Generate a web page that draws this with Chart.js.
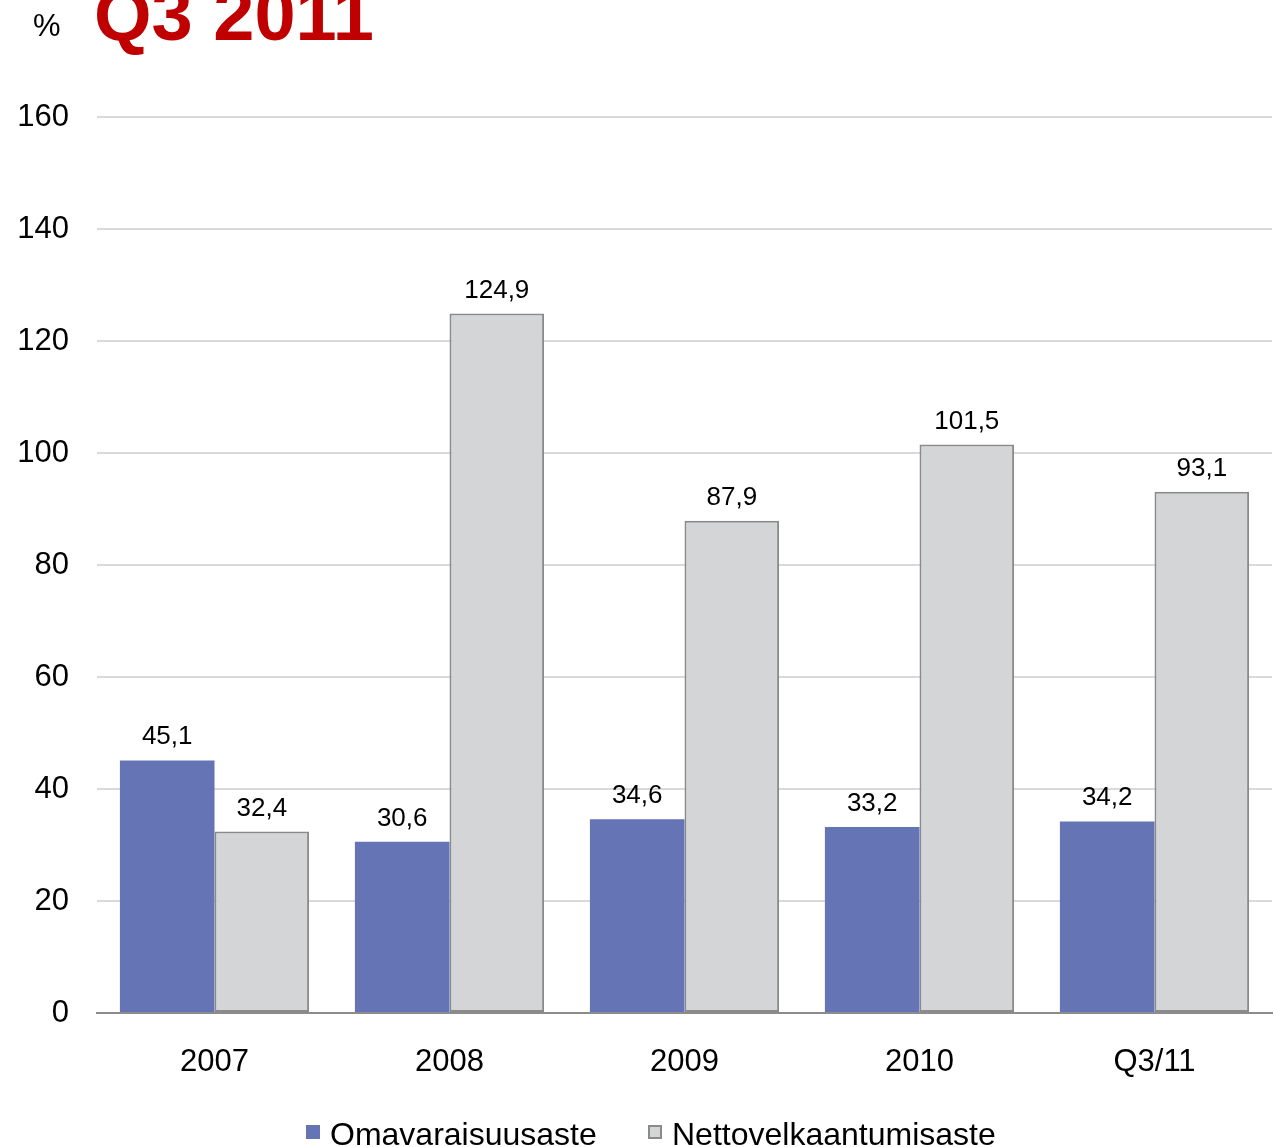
<!DOCTYPE html>
<html>
<head>
<meta charset="utf-8">
<script src="https://cdn.jsdelivr.net/npm/chart.js@4"></script>
<style>
  html, body { margin: 0; padding: 0; background: #fff; overflow: hidden; }
  #wrap { position: relative; width: 1274px; height: 1147px; }
  canvas { display: block; }
</style>
</head>
<body>
<div id="wrap"><canvas id="c" width="1274" height="1147"></canvas></div>
<script>
const categories = ['2007', '2008', '2009', '2010', 'Q3/11'];
const omavaraisuusaste = [45.1, 30.6, 34.6, 33.2, 34.2];
const nettovelkaantumisaste = [32.4, 124.9, 87.9, 101.5, 93.1];
const seriesNames = ['Omavaraisuusaste', 'Nettovelkaantumisaste'];
const titleText = 'Q3 2011';
const unitText = '%';

const FONT = '"Liberation Sans", Arial, sans-serif';

const overlayPlugin = {
  id: 'overlay',
  afterDatasetsDraw(chart) {
    const ctx = chart.ctx;
    ctx.save();
    ctx.fillStyle = '#000';
    ctx.font = '26px ' + FONT;
    ctx.textAlign = 'center';
    ctx.textBaseline = 'alphabetic';
    chart.data.datasets.forEach((ds, i) => {
      const meta = chart.getDatasetMeta(i);
      meta.data.forEach((bar, j) => {
        const v = ds.data[j];
        ctx.fillText(v.toFixed(1).replace('.', ','), bar.x, bar.y - 16);
      });
    });
    ctx.restore();
  },
  afterDraw(chart) {
    const ctx = chart.ctx;
    ctx.save();
    ctx.fillStyle = '#C00000';
    ctx.font = 'bold 74px ' + FONT;
    ctx.textAlign = 'left';
    ctx.textBaseline = 'alphabetic';
    ctx.fillText(titleText, 94, 40);
    ctx.fillStyle = '#000';
    ctx.font = '31px ' + FONT;
    ctx.fillText(unitText, 33, 36);
    const items = [
      { x: 306, tx: 330 },
      { x: 648, tx: 672 }
    ];
    ctx.font = '32px ' + FONT;
    chart.data.datasets.forEach((ds, i) => {
      const it = items[i];
      ctx.fillStyle = ds.backgroundColor;
      ctx.fillRect(it.x, 1125, 14, 14);
      if (ds.borderWidth) {
        ctx.strokeStyle = ds.borderColor;
        ctx.lineWidth = 2;
        ctx.strokeRect(it.x + 1, 1126, 12, 12);
      }
      ctx.fillStyle = '#000';
      ctx.fillText(ds.label, it.tx, 1145);
    });
    ctx.restore();
  }
};

new Chart(document.getElementById('c'), {
  type: 'bar',
  data: {
    labels: categories,
    datasets: [
      {
        label: seriesNames[0],
        data: omavaraisuusaste,
        backgroundColor: '#6574B5',
        borderWidth: 0,
        categoryPercentage: 0.805,
        barPercentage: 1.0
      },
      {
        label: seriesNames[1],
        data: nettovelkaantumisaste,
        backgroundColor: '#D4D5D7',
        borderColor: '#8A8A8A',
        borderWidth: 2,
        borderSkipped: false,
        categoryPercentage: 0.805,
        barPercentage: 1.0
      }
    ]
  },
  options: {
    responsive: false,
    animation: false,
    devicePixelRatio: 1,
    layout: { padding: { top: 117, right: 2, left: 0, bottom: 0 } },
    plugins: {
      legend: { display: false },
      tooltip: { enabled: false }
    },
    scales: {
      x: {
        grid: { display: false, drawTicks: false },
        border: { display: true, color: '#8C8C8C', width: 2 },
        ticks: { color: '#000', font: { family: FONT, size: 31 }, padding: 31 },
        afterFit(scale) { scale.height = 134; }
      },
      y: {
        min: 0,
        max: 160,
        ticks: { stepSize: 20, color: '#000', font: { family: FONT, size: 31 }, padding: 28 },
        grid: {
          drawTicks: false,
          color: (c) => (c.tick && c.tick.value === 0 ? '#8C8C8C' : '#D9D9D9'),
          lineWidth: 2
        },
        border: { display: false },
        afterFit(scale) { scale.width = 97; }
      }
    }
  },
  plugins: [overlayPlugin]
});
</script>
</body>
</html>
